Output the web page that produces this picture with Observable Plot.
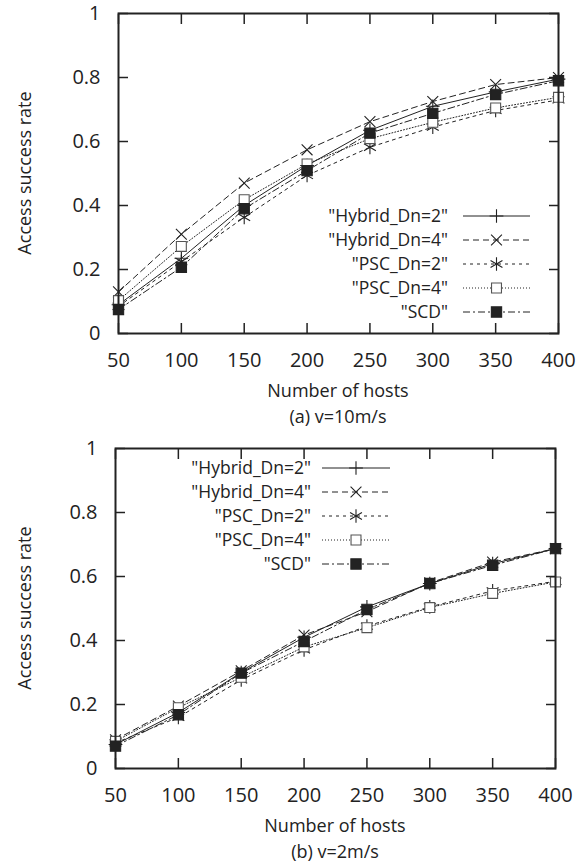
<!DOCTYPE html>
<html>
<head>
<meta charset="utf-8">
<script src="https://cdn.jsdelivr.net/npm/d3@7"></script>
<script src="https://cdn.jsdelivr.net/npm/@observablehq/plot@0.6"></script>
<style>
  html, body { margin: 0; padding: 0; background: #fff; }
  #root { position: relative; width: 587px; height: 865px; font-family: "Open Sans", sans-serif; color: #222; }
  .panel { position: absolute; left: 0; width: 587px; height: 435px; }
  .panel svg.plot { position: absolute; left: 0; top: 0; }
  .cap { position: absolute; font-size: 18px; line-height: 24px; white-space: nowrap; transform: translate(-50%, -50%); color: #222; }
  .ylab { position: absolute; font-size: 18px; line-height: 20px; white-space: nowrap; color: #222;
          transform: translate(-50%, -50%) rotate(-90deg); }
  svg.legend { position: absolute; left: 0; top: 0; overflow: visible; }
</style>
</head>
<body>
<div id="root"></div>
<script>
// ---------- data ----------
const hosts = [50, 100, 150, 200, 250, 300, 350, 400];
const yTicks = [0, 0.2, 0.4, 0.6, 0.8, 1];
const seriesNames = ['"Hybrid_Dn=2"', '"Hybrid_Dn=4"', '"PSC_Dn=2"', '"PSC_Dn=4"', '"SCD"'];

// (a) v=10m/s
const hybrid2A = [0.090, 0.235, 0.400, 0.525, 0.635, 0.710, 0.755, 0.795];
const hybrid4A = [0.130, 0.310, 0.470, 0.574, 0.662, 0.725, 0.778, 0.800];
const psc2A    = [0.085, 0.225, 0.363, 0.494, 0.582, 0.645, 0.697, 0.730];
const psc4A    = [0.103, 0.272, 0.418, 0.530, 0.609, 0.660, 0.705, 0.738];
const scdA     = [0.075, 0.207, 0.390, 0.509, 0.626, 0.688, 0.747, 0.790];

// (b) v=2m/s
const hybrid2B = [0.075, 0.175, 0.300, 0.410, 0.505, 0.578, 0.640, 0.687];
const hybrid4B = [0.090, 0.195, 0.305, 0.417, 0.490, 0.580, 0.645, 0.687];
const psc2B    = [0.080, 0.160, 0.277, 0.371, 0.445, 0.505, 0.555, 0.585];
const psc4B    = [0.085, 0.190, 0.285, 0.380, 0.440, 0.503, 0.547, 0.583];
const scdB     = [0.070, 0.168, 0.298, 0.397, 0.497, 0.578, 0.635, 0.687];

// ---------- styles ----------
const styles = [
  {symbol: "plus",     r: 4.5, stroke: "#222", fill: "none", dash: null},
  {symbol: "times",    r: 5,   stroke: "#222", fill: "none", dash: "6,4"},
  {symbol: "asterisk", r: 6.5, stroke: "#222", fill: "none", dash: "3,4"},
  {symbol: "square",   r: 5.6, stroke: "#555", fill: "white", dash: "1,2"},
  {symbol: "square",   r: 5.8, stroke: "#222", fill: "#222", dash: "7,3,2,3"}
];
const d3Symbols = {plus: d3.symbolPlus, times: d3.symbolTimes, asterisk: d3.symbolAsterisk, square: d3.symbolSquare};

function buildRows(seriesArrays) {
  const rows = [];
  seriesArrays.forEach((vals, i) => vals.forEach((v, j) => rows.push({hosts: hosts[j], value: v, series: seriesNames[i]})));
  return rows;
}

function panel(cfg) {
  const el = document.createElement("div");
  el.className = "panel";
  el.style.top = cfg.top + "px";
  document.getElementById("root").appendChild(el);

  const rows = buildRows(cfg.series);
  const marks = [];
  seriesNames.forEach((name, i) => {
    const s = styles[i];
    const d = rows.filter(r => r.series === name);
    marks.push(Plot.line(d, {x: "hosts", y: "value", stroke: "#222", strokeWidth: 1, strokeDasharray: s.dash}));
  });
  seriesNames.forEach((name, i) => {
    const s = styles[i];
    const d = rows.filter(r => r.series === name);
    marks.push(Plot.dot(d, {x: "hosts", y: "value", symbol: s.symbol, r: s.r, stroke: s.stroke, fill: s.fill, strokeWidth: 1.1}));
  });

  const chart = Plot.plot({
    width: 587,
    height: 380,
    marginTop: 13,
    marginBottom: 47,
    marginLeft: cfg.left,
    marginRight: 587 - cfg.right,
    style: {fontFamily: "'Open Sans', sans-serif", fontSize: "20px", color: "#222", background: "white", overflow: "visible"},
    x: {domain: [50, 400], nice: false},
    y: {domain: [0, 1], nice: false},
    marks: [
      ...marks,
      Plot.axisX({anchor: "bottom", ticks: hosts, tickSize: -10, tickPadding: 29, strokeWidth: 1.5, label: null, tickFormat: d => String(d)}),
      Plot.axisX({anchor: "top", ticks: hosts, tickSize: -10, strokeWidth: 1.5, label: null, tickFormat: () => ""}),
      Plot.axisY({anchor: "left", ticks: yTicks, tickSize: -10, tickPadding: 28, strokeWidth: 1.5, label: null, tickFormat: d => String(d)}),
      Plot.axisY({anchor: "right", ticks: yTicks, tickSize: -10, strokeWidth: 1.5, label: null, tickFormat: () => ""}),
      Plot.frame({stroke: "#222", strokeWidth: 2})
    ]
  });
  chart.classList.add("plot");
  el.appendChild(chart);

  const cx = (cfg.left + cfg.right) / 2;
  const xl = document.createElement("div");
  xl.className = "cap"; xl.textContent = "Number of hosts";
  xl.style.left = cx + "px"; xl.style.top = "390px";
  el.appendChild(xl);
  const cap = document.createElement("div");
  cap.className = "cap"; cap.textContent = cfg.caption;
  cap.style.left = cx + "px"; cap.style.top = "416px";
  el.appendChild(cap);
  const yl = document.createElement("div");
  yl.className = "ylab"; yl.textContent = "Access success rate";
  yl.style.left = "24px"; yl.style.top = "173px";
  el.appendChild(yl);

  // legend
  const lg = d3.create("svg").attr("class", "legend").attr("width", 587).attr("height", 380)
    .style("font-family", "'Open Sans', sans-serif").style("font-size", "17.5px");
  seriesNames.forEach((name, i) => {
    const s = styles[i];
    const y = cfg.legend.y0 + i * cfg.legend.dy;
    lg.append("text").attr("x", cfg.legend.textRight).attr("y", y).attr("text-anchor", "end")
      .attr("dy", "0.35em").attr("fill", "#222").text(name);
    lg.append("line").attr("x1", cfg.legend.x1).attr("x2", cfg.legend.x2).attr("y1", y).attr("y2", y)
      .attr("stroke", "#222").attr("stroke-width", 1).attr("stroke-dasharray", s.dash);
    lg.append("path").attr("d", d3.symbol(d3Symbols[s.symbol], Math.PI * s.r * s.r)())
      .attr("transform", `translate(${(cfg.legend.x1 + cfg.legend.x2) / 2},${y})`)
      .attr("stroke", s.stroke).attr("fill", s.fill).attr("stroke-width", 1.1);
  });
  el.appendChild(lg.node());
}

panel({
  top: 0, left: 118, right: 558, caption: "(a) v=10m/s",
  series: [hybrid2A, hybrid4A, psc2A, psc4A, scdA],
  legend: {y0: 216, dy: 24, textRight: 448, x1: 463, x2: 530}
});
panel({
  top: 435, left: 115, right: 555, caption: "(b) v=2m/s",
  series: [hybrid2B, hybrid4B, psc2B, psc4B, scdB],
  legend: {y0: 33, dy: 24, textRight: 311, x1: 322, x2: 390}
});
</script>
</body>
</html>
